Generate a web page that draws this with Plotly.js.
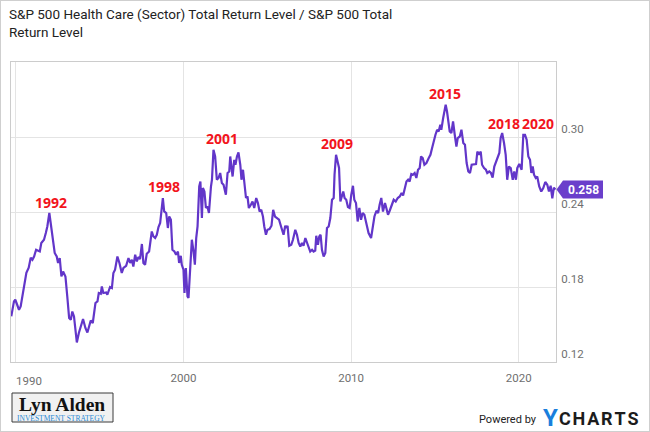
<!DOCTYPE html>
<html>
<head>
<meta charset="utf-8">
<script src="https://cdn.plot.ly/plotly-3.0.1.min.js"></script>
<style>
  html, body { margin: 0; padding: 0; background: #fff; }
  #wrap { position: relative; width: 650px; height: 432px; }
  #chart { width: 650px; height: 432px; }
  #frame { position: absolute; left: 0; top: 0; width: 648px; height: 430px; border: 1px solid #cfcfcf; pointer-events: none; }
</style>
</head>
<body>
<div id="wrap"><div id="chart"></div><div id="frame"></div></div>
<script>
// ---- data (decimal year, ratio) ----
const years = [
1989.73,1989.89,1989.97,1990.09,1990.19,1990.29,1990.43,1990.53,1990.63,1990.77,1990.89,1990.99,
1991.09,1991.21,1991.33,1991.43,1991.52,1991.68,1991.79,1991.88,1992.00,1992.08,1992.18,1992.32,
1992.44,1992.52,1992.62,1992.72,1992.82,1992.96,1993.07,1993.18,1993.28,1993.37,1993.47,1993.64,
1993.76,1993.87,1994.01,1994.15,1994.27,1994.37,1994.47,1994.59,1994.75,1994.87,1994.95,1995.07,
1995.13,1995.22,1995.39,1995.46,1995.62,1995.73,1995.82,1995.92,1996.06,1996.18,1996.32,1996.42,
1996.58,1996.72,1996.82,1996.92,1997.01,1997.12,1997.22,1997.31,1997.41,1997.52,1997.61,1997.71,
1997.81,1997.95,1998.01,1998.11,1998.21,1998.31,1998.41,1998.51,1998.61,1998.67,1998.77,1998.85,
1998.97,1999.07,1999.15,1999.25,1999.34,1999.46,1999.56,1999.67,1999.74,1999.84,1999.90,2000.00,
2000.06,2000.14,2000.24,2000.30,2000.40,2000.50,2000.60,2000.68,2000.76,2000.84,2000.94,2001.01,
2001.10,2001.16,2001.25,2001.34,2001.43,2001.52,2001.64,2001.70,2001.79,2001.89,2001.99,2002.09,
2002.19,2002.29,2002.39,2002.53,2002.63,2002.73,2002.79,2002.93,2003.03,2003.10,2003.19,2003.28,
2003.39,2003.46,2003.55,2003.62,2003.73,2003.82,2003.90,2004.02,2004.12,2004.22,2004.34,2004.44,
2004.54,2004.64,2004.74,2004.82,2004.92,2005.01,2005.13,2005.25,2005.35,2005.46,2005.58,2005.70,
2005.82,2005.91,2005.97,2006.07,2006.13,2006.21,2006.31,2006.43,2006.53,2006.67,2006.77,2006.87,
2006.97,2007.07,2007.16,2007.27,2007.37,2007.46,2007.56,2007.67,2007.76,2007.86,2007.92,2008.02,
2008.10,2008.18,2008.26,2008.36,2008.46,2008.56,2008.66,2008.76,2008.86,2008.96,2009.01,2009.10,
2009.19,2009.28,2009.36,2009.46,2009.53,2009.61,2009.71,2009.81,2009.91,2010.01,2010.11,2010.19,
2010.29,2010.39,2010.49,2010.59,2010.69,2010.79,2010.91,2011.04,2011.19,2011.31,2011.39,2011.51,
2011.61,2011.70,2011.80,2011.90,2012.02,2012.10,2012.20,2012.30,2012.44,2012.54,2012.66,2012.78,
2012.90,2013.01,2013.10,2013.18,2013.30,2013.40,2013.49,2013.59,2013.69,2013.79,2013.89,2013.99,
2014.09,2014.17,2014.27,2014.37,2014.49,2014.63,2014.73,2014.83,2014.93,2015.03,2015.13,2015.22,
2015.32,2015.38,2015.49,2015.56,2015.64,2015.72,2015.80,2015.88,2015.98,2016.08,2016.18,2016.28,
2016.36,2016.48,2016.58,2016.69,2016.79,2016.89,2016.99,2017.09,2017.19,2017.29,2017.45,2017.53,
2017.63,2017.73,2017.81,2017.93,2018.04,2018.12,2018.24,2018.34,2018.44,2018.54,2018.64,2018.74,
2018.84,2018.92,2019.01,2019.12,2019.22,2019.31,2019.41,2019.52,2019.64,2019.73,2019.83,2019.91,
2020.03,2020.17,2020.27,2020.37,2020.47,2020.57,2020.67,2020.75,2020.83,2020.91,2021.01,2021.10,
2021.22,2021.34,2021.46,2021.58,2021.70,2021.80,2021.90,2022.00,2022.09,2022.19
];
const ratio = [
0.1565,0.1685,0.1698,0.1658,0.1618,0.1644,0.1754,0.1858,0.1914,0.1954,0.2034,0.2018,
0.2044,0.2098,0.2092,0.2084,0.2152,0.2178,0.2232,0.2284,0.2392,0.2312,0.2204,0.2072,
0.2044,0.1992,0.2032,0.1884,0.1924,0.1884,0.1724,0.1552,0.1538,0.1604,0.1564,0.1356,
0.1432,0.1484,0.1544,0.1472,0.1436,0.1484,0.1532,0.1512,0.1672,0.1685,0.1752,0.1746,
0.1804,0.1752,0.1756,0.1738,0.1800,0.1792,0.1912,0.1938,0.2044,0.1992,0.1912,0.1952,
0.1970,0.2032,0.1992,0.2018,0.1964,0.2058,0.2004,0.2040,0.2024,0.2144,0.1992,0.1978,
0.2066,0.2084,0.2138,0.2244,0.2204,0.2192,0.2218,0.2280,0.2312,0.2404,0.2512,0.2404,
0.2392,0.2272,0.2364,0.2338,0.2098,0.2084,0.2058,0.2084,0.1992,0.2050,0.1978,0.1938,
0.1752,0.1952,0.1724,0.1712,0.1992,0.2178,0.2084,0.1978,0.2192,0.2284,0.2604,0.2644,
0.2352,0.2592,0.2564,0.2432,0.2444,0.2392,0.2604,0.2658,0.2898,0.2844,0.2658,0.2672,
0.2712,0.2632,0.2618,0.2538,0.2712,0.2724,0.2844,0.2684,0.2818,0.2778,0.2844,0.2876,
0.2778,0.2658,0.2738,0.2632,0.2512,0.2524,0.2432,0.2458,0.2484,0.2432,0.2512,0.2472,
0.2404,0.2418,0.2364,0.2284,0.2218,0.2258,0.2264,0.2290,0.2418,0.2364,0.2352,0.2338,
0.2284,0.2244,0.2218,0.2290,0.2272,0.2290,0.2130,0.2138,0.2178,0.2258,0.2218,0.2152,
0.2124,0.2152,0.2130,0.2192,0.2152,0.2124,0.2084,0.2098,0.2084,0.2092,0.2210,0.2138,
0.2204,0.2218,0.2098,0.2044,0.2072,0.2272,0.2284,0.2352,0.2498,0.2512,0.2698,0.2858,
0.2804,0.2752,0.2484,0.2524,0.2564,0.2512,0.2498,0.2440,0.2432,0.2538,0.2610,0.2498,
0.2472,0.2324,0.2432,0.2338,0.2392,0.2378,0.2312,0.2232,0.2192,0.2290,0.2364,0.2410,
0.2392,0.2458,0.2512,0.2404,0.2472,0.2432,0.2378,0.2410,0.2458,0.2498,0.2484,0.2512,
0.2524,0.2552,0.2532,0.2570,0.2644,0.2658,0.2644,0.2704,0.2698,0.2712,0.2672,0.2738,
0.2752,0.2844,0.2832,0.2778,0.2792,0.2832,0.2858,0.2912,0.2978,0.3018,0.3058,0.3044,
0.3098,0.3058,0.3152,0.3192,0.3258,0.3204,0.3098,0.3044,0.3032,0.3124,0.3018,0.2924,
0.2992,0.3004,0.3058,0.2952,0.2938,0.2792,0.2724,0.2712,0.2778,0.2778,0.2784,0.2884,
0.2858,0.2884,0.2778,0.2752,0.2738,0.2712,0.2724,0.2712,0.2676,0.2764,0.2804,0.2844,
0.2872,0.2992,0.3032,0.2952,0.2858,0.2658,0.2764,0.2752,0.2658,0.2724,0.2658,0.2752,
0.2784,0.2738,0.3018,0.3018,0.2978,0.2844,0.2818,0.2712,0.2764,0.2698,0.2672,0.2684,
0.2604,0.2564,0.2592,0.2640,0.2618,0.2564,0.2610,0.2510,0.2594,0.2580
];
const peakYears  = ['1992','1998','2001','2009','2015','2018','2020'];
const peakLabelX = [1992.11,1998.81,2002.32,2009.13,2015.57,2019.10,2021.16];
const peakLabelY = [0.2478,0.2602,0.2992,0.2946,0.3346,0.3106,0.3106];
const xTickVals = [1990,2000,2010,2020];
const xTickText = ['','2000','2010','2020'];   // first label is drawn nudged right (see below)
const firstTickLabel = '1990';
const yTickVals = [0.12,0.18,0.24,0.30];
const yTickText = ['0.12','0.18','0.24','0.30'];
const seriesTitle = 'S&P 500 Health Care (Sector) Total Return Level / S&P 500 Total<br>Return Level';

// ---- geometry helpers (pixel -> paper) for the decorations ----
const M = {l: 11, r: 94, t: 62, b: 70};
const W = 650, H = 432;
const PW = W - M.l - M.r, PH = H - M.t - M.b;
const YR = [0.12, 0.36];
const px = p => (p - M.l) / PW;
const py = p => (H - M.b - p) / PH;

const lastVal = ratio[ratio.length - 1];
const lastY = (lastVal - YR[0]) / (YR[1] - YR[0]);
const bh = 9 / PH;
const purple = '#6236c9';
const tickFont = {family: 'Roboto', size: 11.5, color: '#6f6f6f'};

const annotations = peakYears.map((t, i) => ({
  x: peakLabelX[i], y: peakLabelY[i], xref: 'x', yref: 'y',
  text: '<b>' + t + '</b>', showarrow: false,
  font: {family: 'Open Sans', size: 14, color: '#f2141c'},
  xanchor: 'center', yanchor: 'middle'
}));
annotations.push({
  x: px(14), y: py(380.5), xref: 'paper', yref: 'paper', text: firstTickLabel, showarrow: false,
  font: tickFont, xanchor: 'left', yanchor: 'middle'
});
annotations.push({
  x: px(583), y: lastY, xref: 'paper', yref: 'paper', text: '<b>' + lastVal.toFixed(3) + '</b>',
  showarrow: false, font: {family: 'Roboto', size: 12, color: '#ffffff'}, xanchor: 'center', yanchor: 'middle'
});
annotations.push({
  x: px(62), y: py(404), xref: 'paper', yref: 'paper', text: '<b>Lyn Alden</b>', showarrow: false,
  font: {family: 'Liberation Serif', size: 19.5, color: '#111'}, xanchor: 'center', yanchor: 'middle'
});
annotations.push({
  x: px(61), y: py(418), xref: 'paper', yref: 'paper', text: 'INVESTMENT STRATEGY', showarrow: false,
  font: {family: 'Liberation Serif', size: 7.5, color: '#2a8ad4'}, xanchor: 'center', yanchor: 'middle'
});
annotations.push({
  x: px(539), y: py(419), xref: 'paper', yref: 'paper', text: 'Powered by', showarrow: false,
  font: {family: 'Roboto', size: 11, color: '#222'}, xanchor: 'right', yanchor: 'middle'
});
annotations.push({
  x: px(541), y: py(418), xref: 'paper', yref: 'paper', text: '<b>Y</b>', showarrow: false,
  font: {family: 'Roboto', size: 24, color: '#1a7fdc'}, xanchor: 'left', yanchor: 'middle'
});
annotations.push({
  x: px(557), y: py(418), xref: 'paper', yref: 'paper', text: '<b>C\u200aH\u200aA\u200aR\u200aT\u200aS</b>', showarrow: false,
  font: {family: 'Roboto', size: 18, color: '#1c1c1c'}, xanchor: 'left', yanchor: 'middle'
});

const shapes = [
  {type: 'path', xref: 'paper', yref: 'paper', line: {width: 0}, fillcolor: '#6a3fcb',
   path: `M ${px(556.5)},${lastY} L ${px(563)},${lastY + bh} L ${px(603)},${lastY + bh} L ${px(603)},${lastY - bh} L ${px(563)},${lastY - bh} Z`},
  {type: 'rect', xref: 'paper', yref: 'paper', x0: px(12), x1: px(113), y0: py(393), y1: py(422),
   line: {color: '#3a3a3a', width: 1}, fillcolor: '#f1f1f1', layer: 'below'}
];

const trace = {
  x: years, y: ratio, type: 'scatter', mode: 'lines',
  line: {color: purple, width: 2.2}, hoverinfo: 'skip'
};

const layout = {
  width: W, height: H, margin: M,
  paper_bgcolor: '#fff', plot_bgcolor: '#fff', showlegend: false,
  font: {family: 'Roboto', color: '#333'},
  title: {text: seriesTitle, xref: 'container', yref: 'container', x: 9 / W, xanchor: 'left',
          y: 1 - 19 / H, yanchor: 'top', font: {family: 'Roboto', size: 13.5, color: '#222'}},
  xaxis: {range: [1989.713, 2022.22], tickvals: xTickVals, ticktext: xTickText,
          showgrid: true, gridcolor: '#e4e4e4', gridwidth: 1, zeroline: false,
          showline: true, linecolor: '#cccccc', linewidth: 1, mirror: true, ticks: '',
          tickfont: tickFont, ticklabelstandoff: 5},
  yaxis: {range: YR, side: 'right', tickvals: yTickVals, ticktext: yTickText,
          showgrid: true, gridcolor: '#e4e4e4', gridwidth: 1, zeroline: false,
          showline: true, linecolor: '#cccccc', linewidth: 1, mirror: true, ticks: '',
          ticklabelposition: 'outside top', ticklabelstandoff: 2,
          tickfont: tickFont},
  annotations: annotations, shapes: shapes
};

Plotly.newPlot('chart', [trace], layout, {displayModeBar: false, staticPlot: true});
</script>
</body>
</html>
